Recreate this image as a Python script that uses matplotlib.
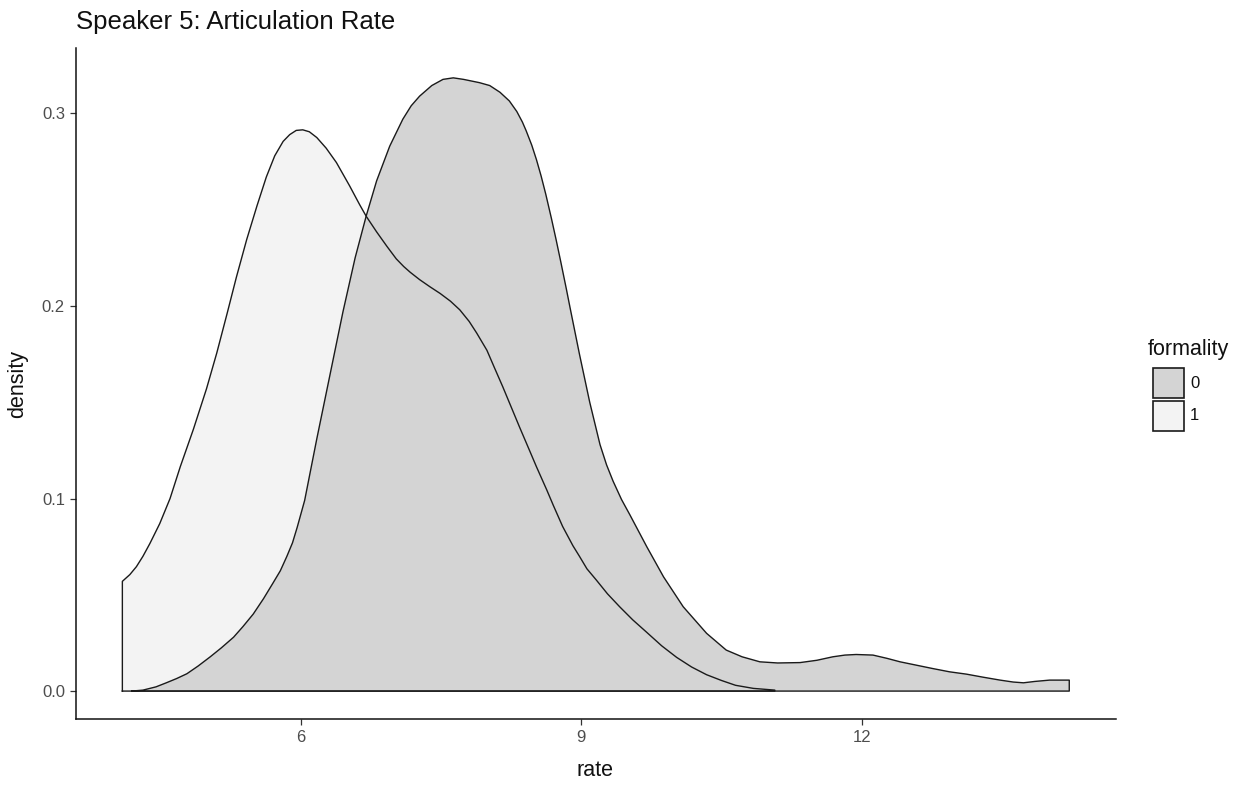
import matplotlib
matplotlib.use("Agg")
import matplotlib.pyplot as plt
from matplotlib.patches import Rectangle

plt.rcParams['font.family'] = ['Liberation Sans', 'DejaVu Sans']

# density estimates for articulation rate, split by formality
rate_formal0 = [4.19, 4.31, 4.45, 4.56, 4.67, 4.78, 4.90, 5.03, 5.15, 5.28,
                5.38, 5.49, 5.60, 5.70, 5.78, 5.85, 5.91, 5.96, 6.00, 6.04,
                6.17, 6.31, 6.45, 6.58, 6.70, 6.81, 6.95, 7.09, 7.18, 7.27,
                7.40, 7.52, 7.63, 7.74, 7.91, 8.02, 8.13, 8.23, 8.31, 8.37,
                8.41, 8.47, 8.52, 8.57, 8.62, 8.68, 8.73, 8.78, 8.84, 8.88,
                8.98, 9.09, 9.20, 9.27, 9.34, 9.43, 9.52, 9.70, 9.88, 10.09,
                10.34, 10.55, 10.72, 10.91, 11.10, 11.34, 11.52, 11.69, 11.82, 11.94,
                12.12, 12.27, 12.41, 12.58, 12.76, 12.94, 13.12, 13.30, 13.48, 13.62,
                13.73, 13.85, 14.01, 14.22]
dens_formal0 = [0.0, 0.0005, 0.0022, 0.0043, 0.0065, 0.009, 0.0130, 0.0178, 0.0225, 0.028,
                0.0335, 0.040, 0.048, 0.056, 0.0625, 0.070, 0.077, 0.085, 0.092, 0.099,
                0.131, 0.164, 0.197, 0.225, 0.247, 0.265, 0.283, 0.297, 0.304, 0.309,
                0.3145, 0.3177, 0.3185, 0.3177, 0.316, 0.3145, 0.311, 0.3065, 0.301, 0.2955,
                0.291, 0.2835, 0.276, 0.2675, 0.258, 0.2455, 0.2345, 0.223, 0.2088, 0.199,
                0.175, 0.150, 0.128, 0.1175, 0.109, 0.0995, 0.0915, 0.075, 0.0593, 0.0438,
                0.030, 0.0213, 0.0178, 0.0152, 0.0146, 0.0148, 0.016, 0.0178, 0.0187, 0.019,
                0.0187, 0.017, 0.0152, 0.0135, 0.0117, 0.010, 0.0088, 0.0072, 0.0057, 0.0047,
                0.0043, 0.0050, 0.0057, 0.0057]

rate_formal1 = [4.09, 4.17, 4.24, 4.31, 4.385, 4.49, 4.60, 4.71, 4.85, 4.99,
                5.10, 5.21, 5.31, 5.42, 5.53, 5.63, 5.72, 5.81, 5.88, 5.95,
                6.02, 6.09, 6.17, 6.27, 6.38, 6.52, 6.63, 6.70, 6.81, 6.92,
                7.02, 7.10, 7.17, 7.27, 7.38, 7.49, 7.60, 7.70, 7.80, 7.88,
                7.99, 8.07, 8.16, 8.25, 8.34, 8.45, 8.52, 8.63, 8.70, 8.80,
                8.91, 8.98, 9.06, 9.16, 9.28, 9.41, 9.55, 9.70, 9.86, 10.02,
                10.18, 10.34, 10.50, 10.65, 10.84, 11.07]
dens_formal1 = [0.057, 0.0605, 0.0646, 0.070, 0.0767, 0.087, 0.100, 0.1166, 0.136, 0.157,
                0.1756, 0.196, 0.215, 0.2345, 0.252, 0.267, 0.278, 0.2855, 0.289, 0.2912,
                0.2915, 0.2905, 0.2875, 0.282, 0.2745, 0.2625, 0.2525, 0.2465, 0.2385, 0.231,
                0.2245, 0.2205, 0.2175, 0.2137, 0.210, 0.2065, 0.2025, 0.198, 0.192, 0.186,
                0.177, 0.168, 0.158, 0.1475, 0.137, 0.1245, 0.1165, 0.1045, 0.0965, 0.0855,
                0.0755, 0.070, 0.0635, 0.0577, 0.0505, 0.0438, 0.037, 0.0305, 0.0235, 0.0175,
                0.0125, 0.0085, 0.0055, 0.003, 0.0014, 0.0005]

formality_levels = ['0', '1']
fill_colors = ['#D4D4D4', '#F3F3F3']
line_color = '#1A1A1A'

W, H = 1246, 785
fig = plt.figure(figsize=(W / 100, H / 100), dpi=100)
ax = fig.add_axes([76 / W, 66 / H, 1040 / W, 671 / H])


def closed(xs, ys):
    # close the density outline down to the baseline
    px = [xs[0]] + list(xs) + [xs[-1], xs[0]]
    py = [0.0] + list(ys) + [0.0, 0.0]
    return px, py


x1, y1 = closed(rate_formal1, dens_formal1)
x0, y0 = closed(rate_formal0, dens_formal0)
ax.fill(x1, y1, color=fill_colors[1], lw=0, zorder=1)
ax.fill(x0, y0, color=fill_colors[0], lw=0, zorder=2)
ax.plot(x0, y0, color=line_color, lw=1.0, zorder=3, solid_joinstyle='round')
ax.plot(x1, y1, color=line_color, lw=1.0, zorder=4, solid_joinstyle='round')

ax.set_xlim(3.594, 14.72)
ax.set_ylim(-0.0145, 0.334)
ax.set_xticks([6, 9, 12])
ax.set_xticklabels(['6', '9', '12'])
ax.set_yticks([0.0, 0.1, 0.2, 0.3])
ax.set_yticklabels(['0.0', '0.1', '0.2', '0.3'])

for side in ['top', 'right']:
    ax.spines[side].set_visible(False)
for side in ['left', 'bottom']:
    ax.spines[side].set_color('#111111')
    ax.spines[side].set_linewidth(1.1)
ax.tick_params(axis='both', length=4, width=0.9, color='#333333',
               labelcolor='#4D4D4D', labelsize=12, pad=4)

fig.text(595 / W, 1 - 770 / H, 'rate', fontsize=15.5, color='#111111',
         ha='center', va='center')
fig.text(18 / W, 1 - 384 / H, 'density', fontsize=15.5, color='#111111',
         ha='center', va='center', rotation=90)
fig.text(76 / W, 1 - 22 / H, 'Speaker 5: Articulation Rate',
         fontsize=18.5, color='#111111', ha='left', va='center')

# legend for the fill groups
fig.text(1148 / W, 1 - 350 / H, 'formality', fontsize=15.5, color='#111111',
         ha='left', va='center')
key_tops = [368, 401]
for top, col, lab in zip(key_tops, fill_colors, formality_levels):
    fig.add_artist(Rectangle((1153 / W, 1 - (top + 30) / H), 31 / W, 30 / H,
                             transform=fig.transFigure, facecolor=col,
                             edgecolor=line_color, linewidth=1.2))
    fig.text(1190 / W, 1 - (top + 15) / H, lab, fontsize=12, color='#111111',
             ha='left', va='center')

fig.savefig('out.png', dpi=100)
